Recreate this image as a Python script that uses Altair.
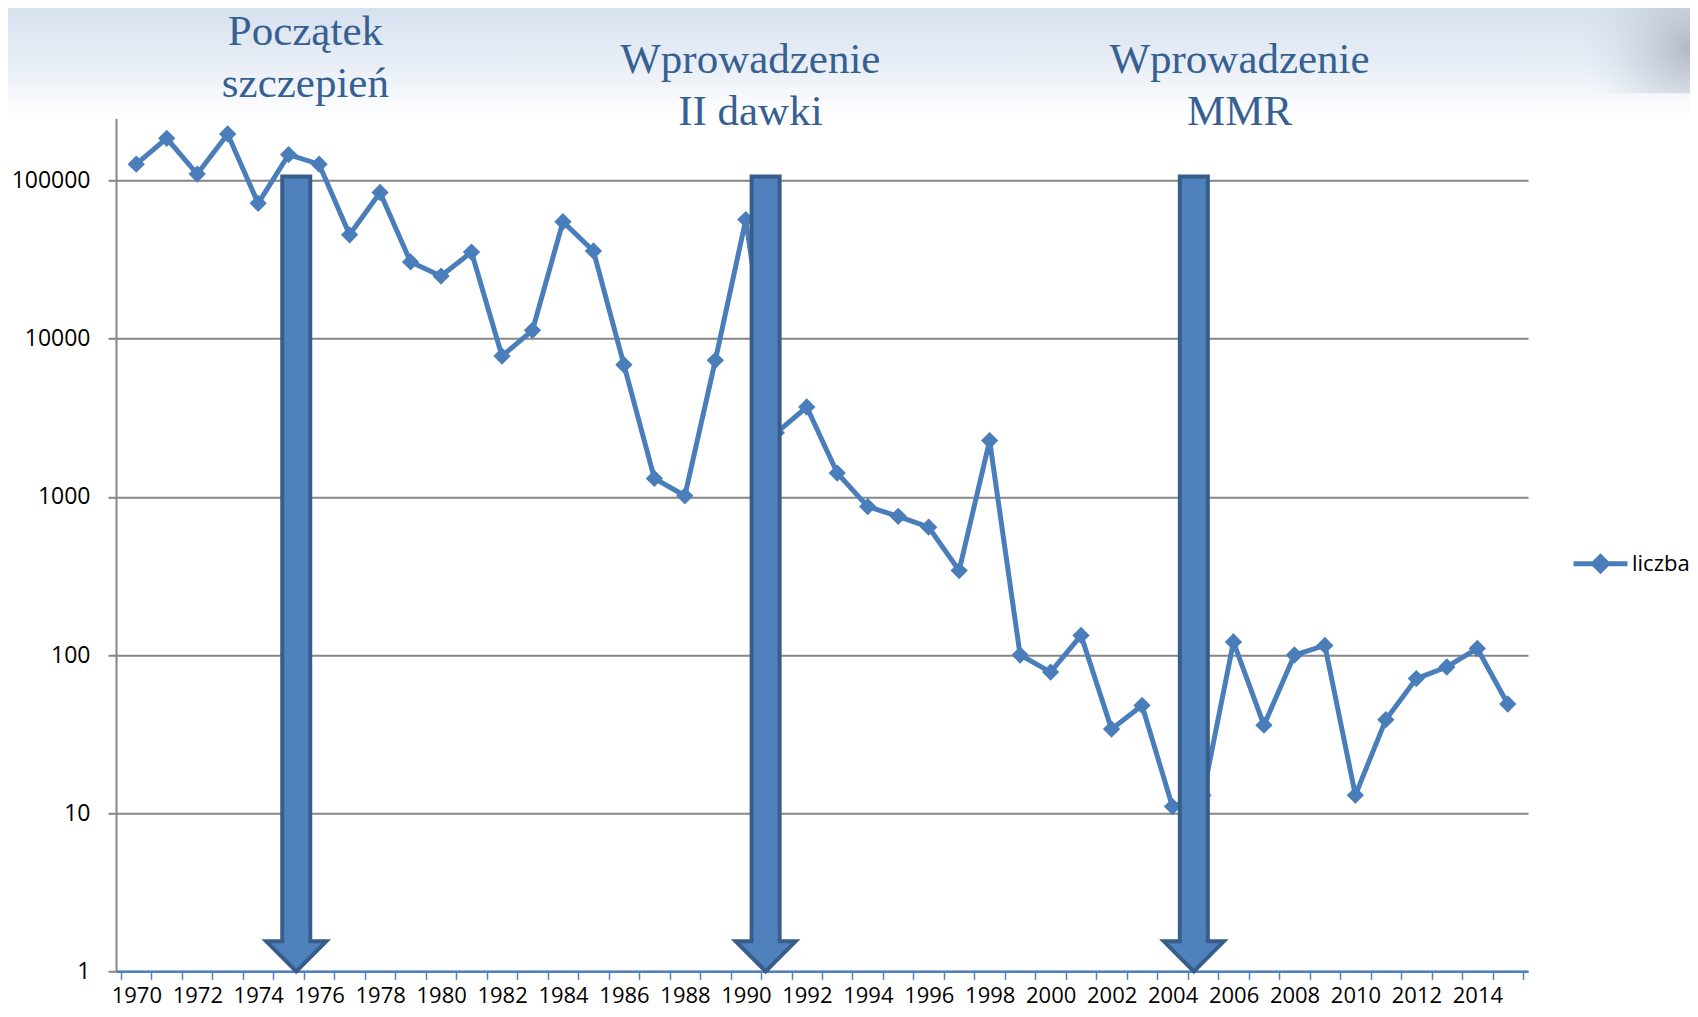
import altair as alt
import pandas as pd

# ---- data ----
years = list(range(1970, 2016))
cases = [127000, 185000, 110000, 197000, 71800, 146000, 127000, 45400, 84100, 30600,
         24900, 35300, 7770, 11300, 54900, 35900, 6850, 1308, 1016, 7300,
         56700, 2540, 3700, 1415, 868, 753, 643, 342, 2270, 100,
         78, 133, 34, 48, 11, 13, 121, 36, 100, 115,
         13, 39, 71, 84, 110, 49]
series_name = "liczba"

y_tick_values = [1, 10, 100, 1000, 10000, 100000]
x_label_years = list(range(1970, 2015, 2))

# arrows (year position, top of shaft, top of head, tip)
arrow_year = [1975.25, 1990.65, 2004.7]
arrow_top = [106000, 106000, 106000]
arrow_head_top = [1.57, 1.57, 1.57]
arrow_tip = [1, 1, 1]

# annotations above the chart
ann_x = [1975.55, 1990.15, 2006.2]
ann_text = ["Początek\nszczepień", "Wprowadzenie\nII dawki", "Wprowadzenie\nMMR"]

# ---- layout ----
W, H = 1412, 853
BLUE = "#4a7ebb"
ARROW_FILL = "#4f81bd"
ARROW_EDGE = "#385d8a"
GRID = "#868686"
LABEL_FONT = "Open Sans"

df = pd.DataFrame({"rok": years, "liczba": cases, "seria": series_name})
arrows = pd.DataFrame({"rok": arrow_year, "top": arrow_top, "head": arrow_head_top,
                       "tip": arrow_tip})
arrows["cov_top"] = [1.84] * len(arrows)
arrows["cov_bot"] = [1.33] * len(arrows)
ann = pd.DataFrame({"rok": ann_x, "txt": ann_text, "idx": [0, 1, 2]})

tick_positions = [y - 0.5 for y in range(1970, 2017)]
label_list = "[" + ",".join("'%d'" % y for y in x_label_years) + "]"

x_scale = alt.Scale(domain=[1969.5, 2015.5], nice=False, zero=False)
y_scale = alt.Scale(type="log", domain=[1, 247700], nice=False)

x_axis = alt.Axis(
    values=tick_positions,
    labelExpr="indexof(%s, toString(datum.value + 0.5)) >= 0 ? toString(datum.value + 0.5) : ''" % label_list,
    labelOffset=W / 46 / 2, labelFlush=False, labelOverlap=False, grid=False,
    domainColor=ARROW_FILL, domainWidth=2.5, tickColor=ARROW_FILL, tickWidth=1.5,
    tickSize=8, labelFont=LABEL_FONT, labelFontSize=22, labelColor="black",
    labelPadding=6, title=None)
y_axis = alt.Axis(
    values=y_tick_values, format="d", grid=True, gridColor=GRID, gridWidth=2,
    domainColor=GRID, domainWidth=2, tickColor=GRID, tickWidth=2, tickSize=8,
    labelFont=LABEL_FONT, labelFontSize=23, labelColor="black", labelPadding=18,
    title=None)

X = lambda f: alt.X(f, type="quantitative", scale=x_scale, axis=x_axis)
Y = lambda f: alt.Y(f, type="quantitative", scale=y_scale, axis=y_axis)

one = pd.DataFrame({"a": [0]})
bg = alt.Chart(one).mark_rect(
    fill=alt.LinearGradient(gradient="linear", x1=0, x2=0, y1=0, y2=1,
                            stops=[alt.GradientStop(color="#d6e1ee", offset=0),
                                   alt.GradientStop(color="#e8eef6", offset=0.5),
                                   alt.GradientStop(color="#ffffff", offset=1)])
).encode(x=alt.value(-108), x2=alt.value(1574), y=alt.value(-110.3), y2=alt.value(0))

shadow = alt.Chart(one).mark_rect(
    fill=alt.RadialGradient(gradient="radial", x1=1, y1=0.5, r1=0, x2=1, y2=0.5, r2=0.5,
                            stops=[alt.GradientStop(color="rgba(168,176,188,0.85)", offset=0),
                                   alt.GradientStop(color="rgba(190,198,210,0.45)", offset=0.5),
                                   alt.GradientStop(color="rgba(214,224,237,0)", offset=1)])
).encode(x=alt.value(1354), x2=alt.value(1574), y=alt.value(-115), y2=alt.value(-25))

line = alt.Chart(df).mark_line(color=BLUE, strokeWidth=5).encode(
    x=X("rok"), y=Y("liczba"))

points = alt.Chart(df).mark_point(shape="diamond", filled=True, size=300, opacity=1).encode(
    x=X("rok"), y=Y("liczba"),
    color=alt.Color("seria:N", scale=alt.Scale(range=[BLUE]),
                    legend=alt.Legend(
                        title=None, orient="none", legendX=1455, legendY=416, padding=0,
                        symbolType="M -1 0 L 1 0 M -0.26 0 L 0 -0.26 L 0.26 0 L 0 0.26 Z",
                        symbolSize=2916, symbolStrokeWidth=5, symbolStrokeColor=BLUE,
                        symbolFillColor=BLUE, symbolOpacity=1,
                        labelFont=LABEL_FONT, labelFontSize=22, labelColor="black",
                        labelOffset=2)))

shaft = alt.Chart(arrows).mark_bar(width=28, fill=ARROW_FILL, stroke=ARROW_EDGE,
                                   strokeWidth=4).encode(
    x=X("rok"), y=Y("top"), y2="head")

head = alt.Chart(arrows).mark_point(
    shape="M -1 -1 L 1 -1 L 0 0 Z", size=3600, filled=True, fill=ARROW_FILL,
    stroke=ARROW_EDGE, strokeWidth=4, opacity=1, strokeJoin="miter").encode(
    x=X("rok"), y=Y("tip"))

cover = alt.Chart(arrows).mark_bar(width=24, fill=ARROW_FILL).encode(
    x=X("rok"), y=Y("cov_top"), y2="cov_bot")

txt_style = dict(lineBreak="\n", font="Liberation Serif", fontSize=43, color="#376092",
                 lineHeight=52, baseline="middle", align="center")
ann1 = alt.Chart(ann).transform_filter("datum.idx == 0").mark_text(**txt_style).encode(
    x=X("rok"), y=alt.value(-86), text="txt:N")
ann2 = alt.Chart(ann).transform_filter("datum.idx > 0").mark_text(**txt_style).encode(
    x=X("rok"), y=alt.value(-58), text="txt:N")

chart = alt.layer(bg, shadow, line, points, shaft, head, cover, ann1, ann2).properties(
    width=W, height=H,
    autosize=alt.AutoSizeParams(type="none"),
    padding={"left": 108, "top": 110.3, "right": 162, "bottom": 38},
).configure_view(stroke=None)

chart.save("out.html", embed_options={"renderer": "svg", "actions": False})
